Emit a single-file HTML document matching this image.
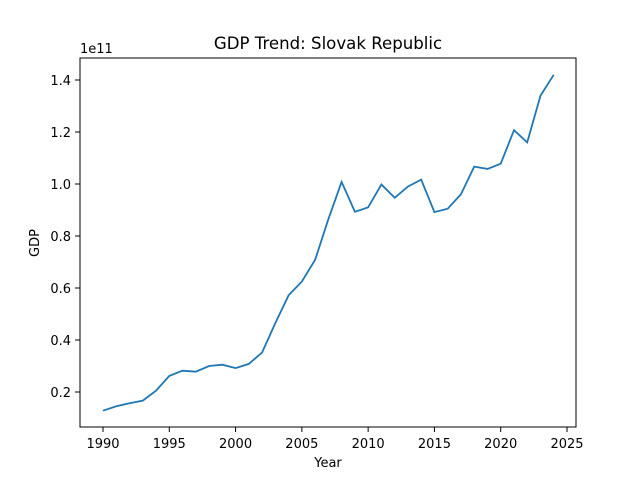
<!DOCTYPE html>
<html><head><meta charset="utf-8"><style>
body{margin:0;background:#fff;}
svg{display:block;font-family:"DejaVu Sans","Liberation Sans",sans-serif;}
</style></head><body>
<svg id="chart" width="640" height="480">
<rect width="640" height="480" fill="#fff"/>
<text x="328" y="49" text-anchor="middle" font-size="16.6">GDP Trend: Slovak Republic</text>
<text x="328" y="467" text-anchor="middle" font-size="13">Year</text>
<text transform="translate(39,243) rotate(-90)" text-anchor="middle" font-size="13">GDP</text>
<text x="80" y="53" font-size="13">1e11</text>
<g id="ticks"></g>
<path id="line" fill="none" stroke="#1f77b4" stroke-width="1.8"/>
<rect x="80" y="58" width="496" height="369" fill="none" stroke="#000" stroke-width="1"/>
</svg>
<script>
const years=[1990,1991,1992,1993,1994,1995,1996,1997,1998,1999,2000,2001,2002,2003,2004,2005,2006,2007,2008,2009,2010,2011,2012,2013,2014,2015,2016,2017,2018,2019,2020,2021,2022,2023,2024];
const gdp=[0.128,0.145,0.157,0.167,0.205,0.262,0.282,0.278,0.300,0.305,0.292,0.308,0.352,0.465,0.572,0.625,0.708,0.865,1.008,0.893,0.910,0.998,0.947,0.990,1.017,0.892,0.905,0.960,1.067,1.058,1.078,1.207,1.160,1.340,1.420];
const xTicks=[1990,1995,2000,2005,2010,2015,2020,2025];
const yTicks=[0.2,0.4,0.6,0.8,1.0,1.2,1.4];
const X=v=>103+(v-1990)*(464/35);
const Y=v=>392-(v-0.2)*260;
const ns="http://www.w3.org/2000/svg";
const g=document.getElementById('ticks');
function mk(t,a){const e=document.createElementNS(ns,t);for(const k in a)e.setAttribute(k,a[k]);return e;}
xTicks.forEach(t=>{
 const l=mk('line',{x1:X(t),x2:X(t),y1:427,y2:432,stroke:'#000'});
 
 
 g.appendChild(l);
 const s=mk('text',{x:X(t),y:448,'text-anchor':'middle','font-size':13});
 s.textContent=t;
 
 
 g.appendChild(s);
});
yTicks.forEach(t=>{
 const l=mk('line',{x1:75,x2:80,y1:Y(t),y2:Y(t),stroke:'#000'});
 
 
 g.appendChild(l);
 const s=mk('text',{x:71,y:Y(t)+5,'text-anchor':'end','font-size':13});
 s.textContent=t.toFixed(1);
 
 
 g.appendChild(s);
});
document.getElementById('line').setAttribute('d',years.map((y,i)=>(i?'L':'M')+X(y).toFixed(1)+','+Y(gdp[i]).toFixed(1)).join(''));
</script>
</body></html>
